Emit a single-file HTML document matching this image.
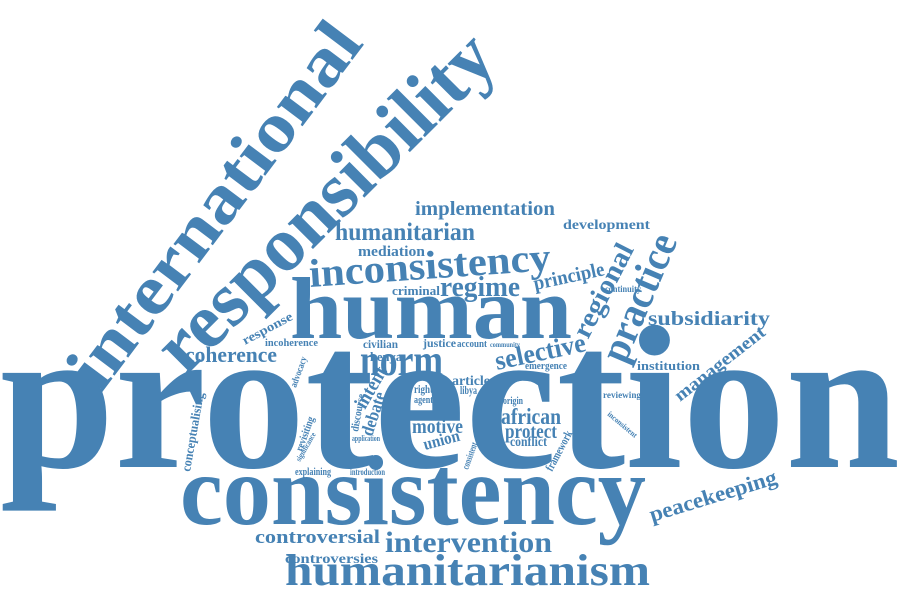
<!DOCTYPE html>
<html><head><meta charset="utf-8"><style>
html,body{margin:0;padding:0;background:#fff}
svg{display:block}
text{font-family:"Liberation Serif",serif;font-weight:bold;fill:#4682b4}
</style></head><body>
<svg width="900" height="590" viewBox="0 0 900 590" xmlns="http://www.w3.org/2000/svg">
<text x="0" y="467" font-size="205" textLength="900" lengthAdjust="spacingAndGlyphs">protection</text>
<text x="290" y="338" font-size="88" textLength="282" lengthAdjust="spacingAndGlyphs">human</text>
<text x="180" y="524" font-size="100" textLength="466" lengthAdjust="spacingAndGlyphs">consistency</text>
<text transform="translate(100,395) rotate(-53)" font-size="70" textLength="440" lengthAdjust="spacingAndGlyphs">international</text>
<text transform="translate(185,377) rotate(-45)" font-size="78" textLength="445" lengthAdjust="spacingAndGlyphs">responsibility</text>
<text x="285" y="585" font-size="44" textLength="365" lengthAdjust="spacingAndGlyphs">humanitarianism</text>
<text x="385" y="552" font-size="30" textLength="167" lengthAdjust="spacingAndGlyphs">intervention</text>
<text x="255" y="543" font-size="19" textLength="125" lengthAdjust="spacingAndGlyphs">controversial</text>
<text x="285" y="563" font-size="14" textLength="93" lengthAdjust="spacingAndGlyphs">controversies</text>
<text transform="translate(652,522) rotate(-17)" font-size="22" textLength="132" lengthAdjust="spacingAndGlyphs">peacekeeping</text>
<text transform="translate(625,365) rotate(-67)" font-size="42" textLength="135" lengthAdjust="spacingAndGlyphs">practice</text>
<text transform="translate(588,340) rotate(-63)" font-size="28" textLength="102" lengthAdjust="spacingAndGlyphs">regional</text>
<text transform="translate(310,287) rotate(-4)" font-size="40" textLength="242" lengthAdjust="spacingAndGlyphs">inconsistency</text>
<text x="415" y="215" font-size="20" textLength="140" lengthAdjust="spacingAndGlyphs">implementation</text>
<text x="563" y="229" font-size="14" textLength="87" lengthAdjust="spacingAndGlyphs">development</text>
<text x="335" y="240" font-size="25" textLength="140" lengthAdjust="spacingAndGlyphs">humanitarian</text>
<text x="358" y="256" font-size="15" textLength="67" lengthAdjust="spacingAndGlyphs">mediation</text>
<text x="440" y="296" font-size="28" textLength="80" lengthAdjust="spacingAndGlyphs">regime</text>
<text transform="translate(535,290) rotate(-12)" font-size="20" textLength="72" lengthAdjust="spacingAndGlyphs">principle</text>
<text x="392" y="295" font-size="13" textLength="48" lengthAdjust="spacingAndGlyphs">criminal</text>
<text x="605" y="292" font-size="9" textLength="36" lengthAdjust="spacingAndGlyphs">continuity</text>
<text x="648" y="325" font-size="20" textLength="122" lengthAdjust="spacingAndGlyphs">subsidiarity</text>
<text transform="translate(680,402) rotate(-38)" font-size="18" textLength="110" lengthAdjust="spacingAndGlyphs">management</text>
<text x="637" y="370" font-size="13" textLength="63" lengthAdjust="spacingAndGlyphs">institution</text>
<text x="603" y="398" font-size="9" textLength="38" lengthAdjust="spacingAndGlyphs">reviewing</text>
<text transform="translate(607,415) rotate(40)" font-size="8" textLength="36" lengthAdjust="spacingAndGlyphs">inconsistent</text>
<text x="185" y="362" font-size="22" textLength="92" lengthAdjust="spacingAndGlyphs">coherence</text>
<text transform="translate(245,345) rotate(-28)" font-size="13" textLength="55" lengthAdjust="spacingAndGlyphs">response</text>
<text x="265" y="346" font-size="11" textLength="53" lengthAdjust="spacingAndGlyphs">incoherence</text>
<text x="363" y="348" font-size="12" textLength="35" lengthAdjust="spacingAndGlyphs">civilian</text>
<text x="423" y="347" font-size="12" textLength="33" lengthAdjust="spacingAndGlyphs">justice</text>
<text x="457" y="347" font-size="11" textLength="30" lengthAdjust="spacingAndGlyphs">account</text>
<text x="490" y="347" font-size="7" textLength="30" lengthAdjust="spacingAndGlyphs">community</text>
<text x="360" y="375" font-size="44" textLength="83" lengthAdjust="spacingAndGlyphs">norm</text>
<text transform="translate(497,370) rotate(-12)" font-size="27" textLength="92" lengthAdjust="spacingAndGlyphs">selective</text>
<text x="370" y="361" font-size="13" textLength="32" lengthAdjust="spacingAndGlyphs">kenya</text>
<text x="525" y="369" font-size="11" textLength="42" lengthAdjust="spacingAndGlyphs">emergence</text>
<text transform="translate(365,410) rotate(-60)" font-size="20" textLength="45" lengthAdjust="spacingAndGlyphs">intent</text>
<text x="452" y="385" font-size="14" textLength="38" lengthAdjust="spacingAndGlyphs">article</text>
<text x="460" y="394" font-size="12" textLength="17" lengthAdjust="spacingAndGlyphs">libya</text>
<text x="414" y="393" font-size="12" textLength="19" lengthAdjust="spacingAndGlyphs">right</text>
<text x="414" y="403" font-size="10" textLength="19" lengthAdjust="spacingAndGlyphs">agent</text>
<text transform="translate(372,437) rotate(-72)" font-size="18" textLength="45" lengthAdjust="spacingAndGlyphs">debate</text>
<text transform="translate(358,432) rotate(-80)" font-size="11" textLength="38" lengthAdjust="spacingAndGlyphs">discourse</text>
<text x="501" y="424" font-size="23" textLength="60" lengthAdjust="spacingAndGlyphs">african</text>
<text x="505" y="438" font-size="20" textLength="52" lengthAdjust="spacingAndGlyphs">protect</text>
<text x="510" y="446" font-size="14" textLength="37" lengthAdjust="spacingAndGlyphs">conflict</text>
<text x="503" y="404" font-size="11" textLength="20" lengthAdjust="spacingAndGlyphs">origin</text>
<text x="412" y="433" font-size="20" textLength="51" lengthAdjust="spacingAndGlyphs">motive</text>
<text transform="translate(425,450) rotate(-15)" font-size="17" textLength="37" lengthAdjust="spacingAndGlyphs">union</text>
<text x="295" y="475" font-size="11" textLength="36" lengthAdjust="spacingAndGlyphs">explaining</text>
<text x="350" y="475" font-size="9" textLength="35" lengthAdjust="spacingAndGlyphs">introduction</text>
<text x="352" y="441" font-size="8" textLength="28" lengthAdjust="spacingAndGlyphs">application</text>
<text transform="translate(552,472) rotate(-62)" font-size="12" textLength="44" lengthAdjust="spacingAndGlyphs">framework</text>
<text transform="translate(468,470) rotate(-70)" font-size="10" textLength="28" lengthAdjust="spacingAndGlyphs">consistent</text>
<text transform="translate(190,472) rotate(-80)" font-size="13" textLength="80" lengthAdjust="spacingAndGlyphs">conceptualising</text>
<text transform="translate(296,388) rotate(-70)" font-size="10" textLength="32" lengthAdjust="spacingAndGlyphs">advocacy</text>
<text transform="translate(302,452) rotate(-70)" font-size="11" textLength="36" lengthAdjust="spacingAndGlyphs">revisiting</text>
<text transform="translate(300,462) rotate(-60)" font-size="8" textLength="32" lengthAdjust="spacingAndGlyphs">significance</text>
</svg>
</body></html>
